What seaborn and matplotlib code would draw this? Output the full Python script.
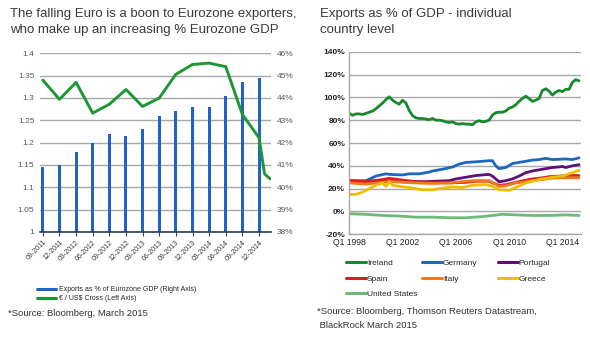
import numpy as np
import pandas as pd
import matplotlib
matplotlib.use("Agg")
import matplotlib.pyplot as plt
from matplotlib.lines import Line2D
import seaborn as sns

# ---------------- data: left chart ----------------
quarters = ["09-2011", "12-2011", "03-2012", "06-2012", "09-2012", "12-2012", "03-2013",
            "06-2013", "09-2013", "12-2013", "03-2014", "06-2014", "09-2014", "12-2014"]
exports_pct = [40.9, 41.0, 41.6, 42.0, 42.4, 42.3, 42.6, 43.2, 43.4, 43.6, 43.6, 44.1, 44.7, 44.9]
# months after Sep-2011 for the EUR/USD observations
eur_months = [0, 3, 6, 9, 12, 15, 18, 21, 24, 27, 30, 33, 36, 39, 40, 41]
eurusd = [1.340, 1.297, 1.335, 1.266, 1.286, 1.319, 1.281, 1.300, 1.353, 1.375,
          1.378, 1.370, 1.263, 1.211, 1.130, 1.119]

# ---------------- data: right chart (quarters since Q1 1998) ----------------
ire_v = [86, 84.3, 85.5, 85.5, 85, 86, 87, 88, 90, 92.5, 95, 98, 100.5, 97.5, 95.5, 94,
         97.5, 95, 88.5, 84, 82, 81.5, 81.5, 81, 80.5, 81.5, 80, 80, 79.5, 78.5, 78, 78.5,
         77, 76.5, 77, 76.5, 76.5, 76, 78.5, 79.5, 78.5, 79, 80, 84.5, 86.5, 87, 87, 88,
         90.5, 91.5, 93.5, 96.5, 99, 101, 99, 96.5, 97.5, 99, 106, 107.5, 105.5, 102,
         104.5, 106, 105, 107, 107, 113, 115.5, 114.5]
ire_q = list(range(len(ire_v)))
ger_q = [0, 5, 8, 11, 12, 16, 18, 21, 24, 25, 28, 31, 33, 35, 38, 42, 43, 44, 45, 47, 49,
         52, 55, 57, 59, 61, 65, 67, 69]
ger_v = [27, 27, 31, 33, 32.5, 32, 33, 33, 34.5, 35.5, 37, 39, 41.5, 43, 43.5, 44.5, 44.5,
         40, 37.5, 38.5, 42, 43.5, 45, 45.5, 46.5, 45.5, 46, 45.5, 47]
por_q = [0, 3, 6, 10, 14, 18, 22, 26, 30, 32, 35, 38, 42, 43, 45, 47, 49, 51, 53, 55, 57,
         59, 61, 63, 64, 65, 67, 69]
por_v = [27, 26, 26.5, 27, 26.5, 26.5, 26, 26.5, 27, 28.5, 30, 31.5, 32.5, 31, 26, 27, 28.5,
         31, 34, 35.5, 36.5, 37.5, 38.5, 39, 39.5, 38.5, 40, 41]
spa_q = [0, 5, 10, 12, 16, 20, 25, 30, 35, 38, 42, 43, 45, 47, 50, 53, 55, 58, 60, 63, 65, 69]
spa_v = [27, 26, 28, 29, 27.5, 26, 25.5, 25, 25.5, 26.5, 26.5, 25, 23, 23.5, 25.5, 27.5,
         28.5, 29.5, 30.5, 31, 31.5, 31.5]
ita_q = [0, 5, 10, 12, 16, 20, 25, 30, 35, 38, 42, 43, 45, 47, 50, 53, 55, 58, 60, 63, 65, 69]
ita_v = [25, 24, 25.5, 26.5, 25.5, 25, 24.5, 25, 26.5, 27, 27, 25.5, 22, 22.5, 25, 26, 27,
         28, 29, 29.5, 29.5, 29.5]
gre_q = [0, 2, 4, 6, 8, 10, 11, 12, 13, 15, 18, 22, 25, 28, 31, 34, 37, 41, 43, 45, 48, 50,
         53, 57, 61, 64, 67, 69]
gre_v = [15, 15, 17, 20, 23, 25, 22, 26, 23, 22, 21, 19, 19, 20.5, 21.5, 21, 23, 23.5, 22,
         19, 18.5, 21, 25, 28, 30, 31, 34, 36]
usa_q = [0, 5, 10, 15, 20, 25, 30, 35, 40, 43, 46, 50, 55, 60, 65, 69]
usa_v = [-2, -2.5, -3.5, -4, -5, -5, -5.5, -5.5, -4.5, -3.5, -2.5, -3, -3.5, -3.5, -3, -3.5]

countries = ["Ireland", "Germany", "Portugal", "Spain", "Italy", "Greece", "United States"]
country_q = [ire_q, ger_q, por_q, spa_q, ita_q, gre_q, usa_q]
country_v = [ire_v, ger_v, por_v, spa_v, ita_v, gre_v, usa_v]
country_colors = ["#17882c", "#1c68c0", "#5e0f78", "#e01b22", "#ec7a1c", "#f0bd00", "#6dba78"]
x_tick_q = [0, 16, 32, 48, 64]
x_tick_lab = ["Q1 1998", "Q1 2002", "Q1 2006", "Q1 2010", "Q1 2014"]

# ---------------- style ----------------
sns.set_theme(style="white")
plt.rcParams["font.family"] = ["Liberation Sans", "DejaVu Sans"]

W, H = 590, 340
fig = plt.figure(figsize=(W / 100, H / 100), dpi=100)
fig.patch.set_facecolor("white")

def fx(px):
    return px / W

def fy(py):
    return 1 - py / H

grid_c = "#a8a8a8"

# ---------------- left chart ----------------
ax = fig.add_axes([fx(40), fy(232), fx(231), (232 - 53.3) / H])
df_bars = pd.DataFrame({"pos": np.arange(len(quarters)), "val": exports_pct})
sns.barplot(data=df_bars, x="pos", y="val", native_scale=True, width=0.18,
            color="#1f63c6", saturation=1, ax=ax, zorder=2, linewidth=0)
for p in ax.patches:
    p.set_snap(True)
    p.set_antialiased(False)
ax2 = ax.twinx()
eur_x = [m / 3 for m in eur_months]
sns.lineplot(x=eur_x, y=eurusd, ax=ax2, color="#1e9634", lw=2.1)

ax.set_ylim(38, 46)
ax.set_xlim(-0.17, 13.72)
ax.set_yticks(np.arange(38, 47, 1))
ax.set_yticklabels([f"{v}%" for v in range(38, 47)])
ax.yaxis.tick_right()
ax.grid(axis="y", color=grid_c, lw=1)
ax.grid(axis="x", visible=False)
ax.set_axisbelow(True)
ax.set_xticks(np.arange(len(quarters)))
ax.set_xticklabels(quarters, rotation=45, ha="right", rotation_mode="anchor", fontsize=5.0,
                   color="#333333")
ax.tick_params(axis="x", length=3, width=0.8, color="#2b3a55", pad=2, direction="out", bottom=True)
ax.tick_params(axis="y", length=0, labelsize=6, labelcolor="#595959", pad=4)
for s in ["top", "left", "right"]:
    ax.spines[s].set_visible(False)
ax.spines["bottom"].set_color("#2b3a55")
ax.spines["bottom"].set_linewidth(1.2)
ax.set_xlabel("")
ax.set_ylabel("")

ax2.set_ylim(1.0, 1.4)
ax2.set_yticks(np.arange(1.0, 1.401, 0.05))
ax2.set_yticklabels([f"{v:g}" for v in np.round(np.arange(1.0, 1.401, 0.05), 2)])
ax2.yaxis.tick_left()
ax2.tick_params(axis="y", length=0, labelsize=6, labelcolor="#595959", pad=4)
for s in ax2.spines.values():
    s.set_visible(False)
ax2.grid(False)
ax2.set_ylabel("")

fig.text(fx(10), fy(8), "The falling Euro is a boon to Eurozone exporters,\nwho make up an increasing % Eurozone GDP",
         fontsize=9.5, color="#3a3a3a", va="top", ha="left", linespacing=1.4)

left_handles = [Line2D([0], [0], color="#1f63c6", lw=2.2), Line2D([0], [0], color="#1e9634", lw=2.2)]
fig.legend(left_handles, ["Exports as % of Eurozone GDP (Right Axis)", "€ / US$ Cross (Left Axis)"],
           loc="upper left", bbox_to_anchor=(fx(37), fy(286)), frameon=False, fontsize=5,
           handlelength=2.8, handletextpad=0.3, labelspacing=0.3, borderpad=0, borderaxespad=0)
fig.text(fx(8), fy(313), "*Source: Bloomberg, March 2015", fontsize=6.8, color="#333333",
         va="center", ha="left")

# ---------------- right chart ----------------
bx = fig.add_axes([fx(349.3), fy(234.3), fx(581 - 349.3), (234.3 - 51.7) / H])
rows = []
for name, qs, vs in zip(countries, country_q, country_v):
    for q, v in zip(qs, vs):
        rows.append({"country": name, "q": q, "val": v})
df_c = pd.DataFrame(rows)
sns.lineplot(data=df_c, x="q", y="val", hue="country", hue_order=countries,
             palette=dict(zip(countries, country_colors)), lw=2.0, ax=bx, legend=False)
bx.set_ylim(-20, 140)
bx.set_xlim(0, 69.6)
bx.set_yticks(np.arange(-20, 141, 20))
bx.set_yticklabels([f"{v}%" for v in range(-20, 141, 20)])
bx.set_xticks(x_tick_q)
bx.set_xticklabels(x_tick_lab)
bx.grid(axis="y", color=grid_c, lw=1)
bx.grid(axis="x", visible=False)
bx.set_axisbelow(True)
bx.tick_params(axis="y", length=0, labelsize=6, labelcolor="#222222", pad=3)
bx.tick_params(axis="x", length=0, labelsize=6.2, labelcolor="#222222", pad=3)
for lab in bx.get_yticklabels():
    lab.set_fontweight("bold")
for s in ["top", "right"]:
    bx.spines[s].set_visible(False)
bx.spines["left"].set_color(grid_c)
bx.spines["bottom"].set_color(grid_c)
bx.spines["left"].set_linewidth(1)
bx.spines["bottom"].set_linewidth(1)
bx.set_xlabel("")
bx.set_ylabel("")

fig.text(fx(320), fy(8), "Exports as % of GDP - individual\ncountry level",
         fontsize=9.5, color="#3a3a3a", va="top", ha="left", linespacing=1.4)

col_groups = [[0, 3, 6], [1, 4], [2, 5]]
col_x = [346, 422, 498]
for grp, cx in zip(col_groups, col_x):
    hs = [Line2D([0], [0], color=country_colors[i], lw=2.2) for i in grp]
    fig.legend(hs, [countries[i] for i in grp], loc="upper left",
               bbox_to_anchor=(fx(cx), fy(259)), frameon=False, fontsize=6,
               handlelength=2.4, handletextpad=0.1, labelspacing=0.95,
               borderpad=0, borderaxespad=0)

fig.text(fx(317), fy(307), "*Source: Bloomberg, Thomson Reuters Datastream,\n BlackRock March 2015",
         fontsize=6.8, color="#333333", va="top", ha="left", linespacing=1.75)

fig.savefig("out.png", dpi=100, facecolor="white")
